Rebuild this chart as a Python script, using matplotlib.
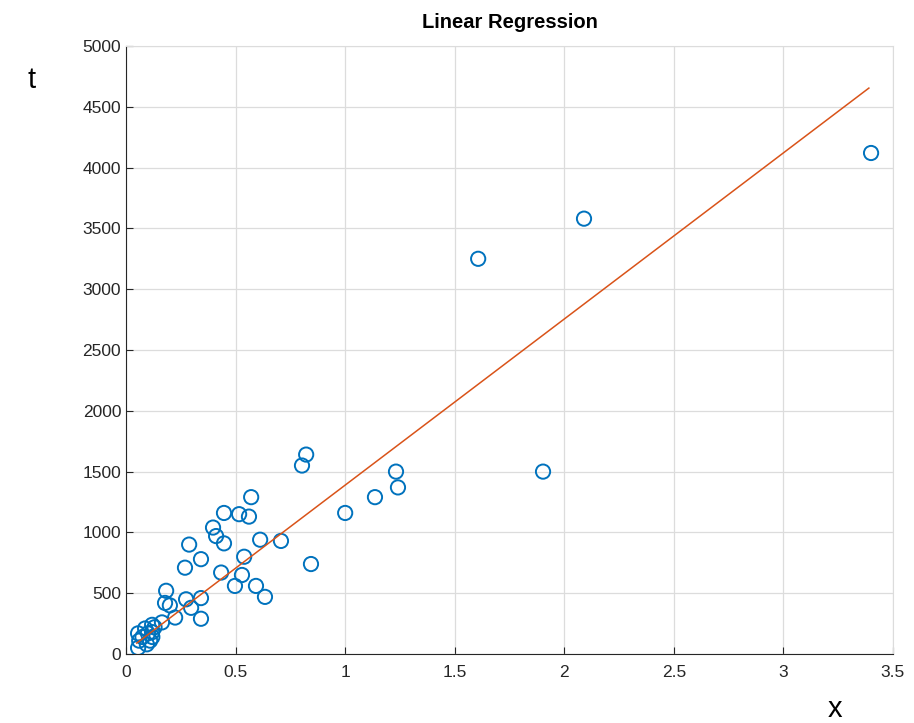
import numpy as np
import matplotlib.pyplot as plt

plt.rcParams['font.family'] = ['Liberation Sans', 'DejaVu Sans']

# data
x = [3.40, 2.09, 1.607, 1.903, 1.232, 1.241, 1.136, 1.00, 0.822, 0.803,
     0.844, 0.707, 0.612, 0.571, 0.561, 0.516, 0.447, 0.397, 0.411, 0.447,
     0.539, 0.529, 0.434, 0.497, 0.593, 0.634, 0.288, 0.342, 0.269, 0.183,
     0.178, 0.20, 0.274, 0.342, 0.297, 0.342, 0.224, 0.164, 0.119, 0.119,
     0.12, 0.087, 0.055, 0.06, 0.055, 0.11, 0.10, 0.13, 0.075, 0.095]
t = [4120, 3580, 3250, 1500, 1500, 1370, 1290, 1160, 1640, 1550,
     740, 930, 940, 1290, 1130, 1150, 1160, 1040, 970, 910,
     800, 650, 670, 560, 560, 470, 900, 780, 710, 520,
     420, 400, 450, 460, 380, 290, 300, 260, 240, 180,
     140, 210, 170, 110, 50, 110, 170, 220, 140, 80]

# regression line as drawn in the picture: t = m*x + b
m = 1366
b = 23
xl = np.array([0.049, 3.39])

fig = plt.figure(figsize=(9.14, 7.23), dpi=100)
ax = fig.add_axes([0.1379, 0.0954, 0.8391, 0.841])
ax.scatter(x, t, s=105, facecolors='none', edgecolors='#0072BD', linewidths=1.4, zorder=3)
ax.plot(xl, m * xl + b, color='#D95319', lw=1.1, zorder=4)

ax.set_xlim(0, 3.5)
ax.set_ylim(0, 5000)
ax.set_xticks(np.arange(0, 3.51, 0.5))
ax.set_xticklabels(['0', '0.5', '1', '1.5', '2', '2.5', '3', '3.5'])
ax.set_yticks(np.arange(0, 5001, 500))
ax.grid(True, color='#dcdcdc', lw=0.9)
ax.set_axisbelow(True)
for s in ['top', 'right']:
    ax.spines[s].set_color('#dcdcdc')
for s in ['left', 'bottom']:
    ax.spines[s].set_color('#262626')
ax.tick_params(direction='in', length=5, labelsize=12.5, colors='#262626',
               top=False, right=False)
ax.tick_params(axis='x', pad=8)
ax.set_title('Linear Regression', fontsize=14.5, fontweight='bold', pad=13)

fig.text(0.035, 0.89, 't', fontsize=21, ha='center', va='center')
fig.text(0.914, 0.02, 'x', fontsize=21, ha='center', va='center')

plt.savefig('out.png')
